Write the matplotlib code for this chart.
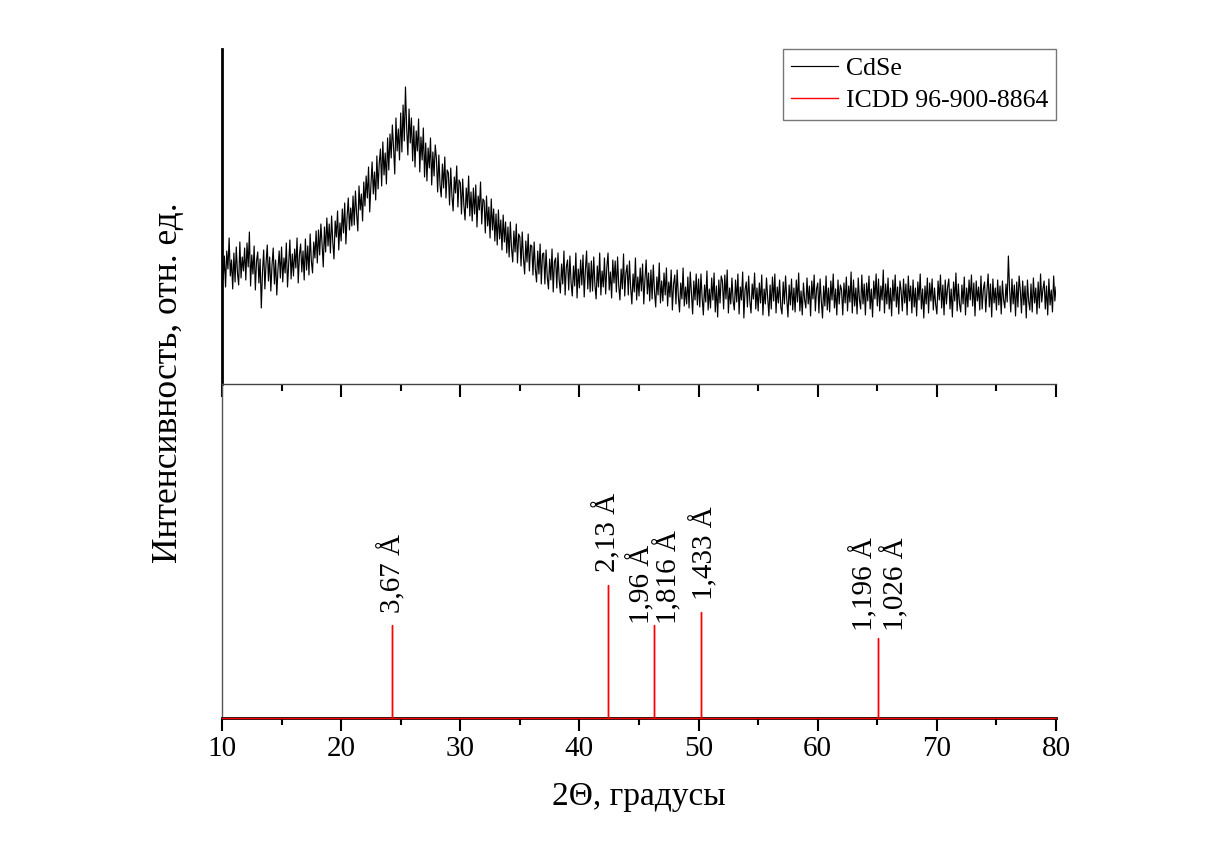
import numpy as np
import matplotlib
matplotlib.use('Agg')
import matplotlib.pyplot as plt
from matplotlib.ticker import MultipleLocator

# Measured pattern, 2theta from 10 to 80 deg, step 0.1 deg (a.u.), one row per degree
two_theta = np.linspace(10, 80, 701)
cdse_counts = [
    139, 104, 128, 97, 133, 115, 146, 108, 124, 95,
    131, 102, 137, 111, 99, 142, 106, 127, 113, 136,
    104, 141, 117, 152, 98, 129, 110, 138, 94, 123,
    132, 101, 125, 76, 112, 134, 95, 121, 139, 103,
    127, 93, 119, 136, 100, 124, 89, 115, 133, 106,
    137, 102, 126, 111, 141, 97, 121, 144, 105, 130,
    108, 135, 116, 146, 101, 129, 140, 112, 133, 104,
    145, 114, 138, 109, 150, 123, 111, 142, 126, 153,
    121, 154, 129, 160, 140, 117, 157, 132, 166, 138,
    160, 131, 168, 142, 125, 163, 147, 173, 134, 161,
    143, 175, 151, 181, 140, 167, 186, 154, 176, 158,
    188, 159, 193, 170, 153, 198, 174, 190, 163, 202,
    178, 208, 186, 217, 172, 199, 222, 190, 212, 184,
    228, 195, 221, 235, 198, 242, 209, 231, 200, 246,
    214, 250, 226, 259, 236, 210, 266, 233, 255, 224,
    271, 232, 279, 243, 297, 256, 229, 275, 241, 266,
    223, 258, 217, 253, 233, 265, 212, 247, 224, 256,
    207, 241, 203, 236, 216, 246, 199, 232, 208, 239,
    225, 192, 229, 199, 187, 220, 196, 227, 186, 214,
    211, 179, 216, 188, 173, 207, 191, 218, 177, 204,
    201, 170, 205, 179, 164, 196, 176, 208, 168, 192,
    163, 196, 170, 199, 157, 188, 174, 202, 160, 185,
    183, 151, 188, 158, 177, 146, 185, 154, 175, 143,
    170, 139, 174, 145, 164, 134, 169, 142, 162, 131,
    157, 127, 162, 136, 122, 153, 132, 160, 121, 150,
    147, 118, 152, 126, 110, 143, 122, 150, 113, 139,
    138, 109, 142, 115, 102, 133, 110, 140, 100, 130,
    131, 100, 134, 107, 95, 125, 104, 135, 92, 122,
    126, 96, 131, 104, 91, 120, 100, 133, 89, 117,
    124, 94, 128, 101, 88, 118, 98, 131, 86, 115,
    96, 124, 99, 129, 87, 114, 133, 95, 121, 92,
    123, 93, 127, 99, 85, 118, 97, 131, 89, 113,
    97, 126, 90, 117, 131, 94, 112, 86, 124, 101,
    123, 92, 127, 98, 84, 115, 95, 130, 88, 111,
    119, 89, 123, 96, 80, 110, 92, 126, 84, 107,
    88, 116, 93, 120, 80, 105, 124, 90, 111, 83,
    114, 85, 119, 92, 77, 107, 89, 121, 81, 103,
    83, 111, 89, 116, 78, 102, 87, 114, 74, 100,
    109, 80, 114, 88, 72, 101, 85, 116, 78, 97,
    80, 107, 76, 112, 90, 70, 103, 84, 110, 79,
    105, 77, 110, 86, 69, 99, 82, 113, 74, 95,
    76, 106, 84, 111, 72, 98, 67, 104, 81, 108,
    103, 75, 109, 85, 114, 71, 96, 80, 106, 83,
    74, 104, 82, 110, 70, 97, 84, 112, 66, 94,
    102, 77, 108, 83, 71, 100, 85, 111, 75, 96,
    73, 101, 81, 109, 69, 95, 80, 106, 86, 68,
    99, 75, 107, 83, 110, 71, 97, 81, 104, 77,
    70, 102, 80, 108, 85, 67, 99, 79, 105, 74,
    96, 72, 104, 82, 111, 73, 93, 69, 101, 84,
    76, 106, 80, 98, 68, 103, 85, 109, 73, 95,
    101, 71, 105, 83, 66, 98, 78, 108, 74, 96,
    72, 103, 84, 110, 76, 95, 69, 104, 80, 99,
    94, 69, 101, 81, 107, 73, 98, 82, 112, 71,
    104, 78, 96, 70, 106, 84, 75, 109, 80, 100,
    69, 101, 83, 108, 75, 95, 67, 103, 85, 110,
    78, 105, 73, 98, 84, 114, 71, 100, 80, 106,
    75, 96, 68, 104, 83, 109, 77, 97, 70, 103,
    93, 73, 105, 81, 100, 69, 108, 83, 98, 71,
    104, 77, 96, 68, 102, 84, 110, 75, 95, 66,
    98, 80, 106, 71, 101, 83, 105, 74, 96, 79,
    70, 103, 84, 109, 76, 99, 69, 104, 80, 97,
    105, 75, 95, 67, 102, 83, 111, 73, 100, 80,
    72, 99, 80, 107, 69, 96, 77, 104, 84, 109,
    78, 101, 68, 103, 83, 97, 74, 108, 75, 95,
    102, 72, 93, 110, 77, 100, 67, 105, 81, 96,
    74, 104, 79, 98, 70, 103, 84, 76, 100, 82,
    128, 95, 72, 105, 80, 99, 68, 102, 77, 108,
    94, 71, 103, 79, 98, 66, 104, 83, 74, 100,
    72, 106, 81, 96, 70, 102, 76, 110, 82, 95,
    103, 75, 98, 69, 105, 79, 94, 72, 108, 83,
    97,
]

# ICDD 96-900-8864 reference lines
ref_2theta = [24.23, 42.40, 46.28, 50.20, 65.03]
ref_intensity = [70, 100, 70, 80, 60]

# d-spacing annotations: text, x position, bottom of the text
d_labels = ['3,67 Å', '2,13 Å', '1,96 Å', '1,816 Å', '1,433 Å', '1,196 Å', '1,026 Å']
d_label_x = [24.25, 42.35, 45.2, 47.45, 50.45, 63.85, 66.45]
d_label_y = [79, 110, 71, 71, 89, 65, 65]

FONT = 'Liberation Serif'
plt.rcParams['font.family'] = FONT

fig = plt.figure(figsize=(12.13, 8.43), dpi=100)
ax1 = fig.add_axes([0.183, 0.5445, 0.6876, 0.3974])
ax2 = fig.add_axes([0.183, 0.1483, 0.6876, 0.3962], sharex=ax1)
ax2.patch.set_visible(False)

# Upper panel: measured pattern
ax1.plot(two_theta, cdse_counts, color='black', linewidth=0.85, label='CdSe')
ax1.plot([], [], color='red', linewidth=1.0, label='ICDD 96-900-8864')
ax1.set_ylim(0, 335)
ax1.set_yticks([])
for side in ['top', 'right']:
    ax1.spines[side].set_visible(False)
ax1.spines['left'].set_linewidth(2.0)
ax1.spines['bottom'].set_linewidth(1.0)
ax1.spines['bottom'].set_color('#444444')
ax1.tick_params(axis='x', which='both', direction='out', labelbottom=False,
                color='black', width=1.5)
ax1.tick_params(axis='x', which='major', length=9)
ax1.tick_params(axis='x', which='minor', length=5)
leg = ax1.legend(loc='upper right', fontsize=18.5, frameon=True, fancybox=False,
                 borderaxespad=0, handlelength=1.85, handletextpad=0.3,
                 borderpad=0.3, labelspacing=0.38)
leg.get_frame().set_edgecolor('#555555')
leg.get_frame().set_linewidth(1.0)

# Lower panel: reference stick pattern
ref_x = [10.0]
ref_y = [0.0]
for pos, h in zip(ref_2theta, ref_intensity):
    ref_x += [pos, pos, pos]
    ref_y += [0.0, h, 0.0]
ref_x.append(80.0)
ref_y.append(0.0)
ax2.plot(ref_x, ref_y, color='red', linewidth=1.0, clip_on=False, zorder=5)
ax2.set_ylim(0, 251)
ax2.set_yticks([])
for side in ['top', 'right']:
    ax2.spines[side].set_visible(False)
ax2.spines['left'].set_linewidth(1.0)
ax2.spines['left'].set_color('#555555')
ax2.spines['bottom'].set_linewidth(2.0)
ax2.spines['bottom'].set_color('black')

for txt, x, y in zip(d_labels, d_label_x, d_label_y):
    ax2.text(x, y, txt, rotation=90, ha='center', va='bottom', fontsize=21)

ax2.set_xlim(10, 80)
ax2.xaxis.set_major_locator(MultipleLocator(10))
ax2.xaxis.set_minor_locator(MultipleLocator(5))
ax2.tick_params(axis='x', which='both', direction='out', width=1.5, labelsize=21, pad=4)
ax2.tick_params(axis='x', which='major', length=9)
ax2.tick_params(axis='x', which='minor', length=5)
ax2.set_xlabel('2Θ, градусы', fontsize=24, labelpad=14)

fig.text(0.1385, 0.546, 'Интенсивность, отн. ед.', rotation=90,
         ha='center', va='center', fontsize=25.5)

plt.savefig('out.png', dpi=100)
plt.close()
